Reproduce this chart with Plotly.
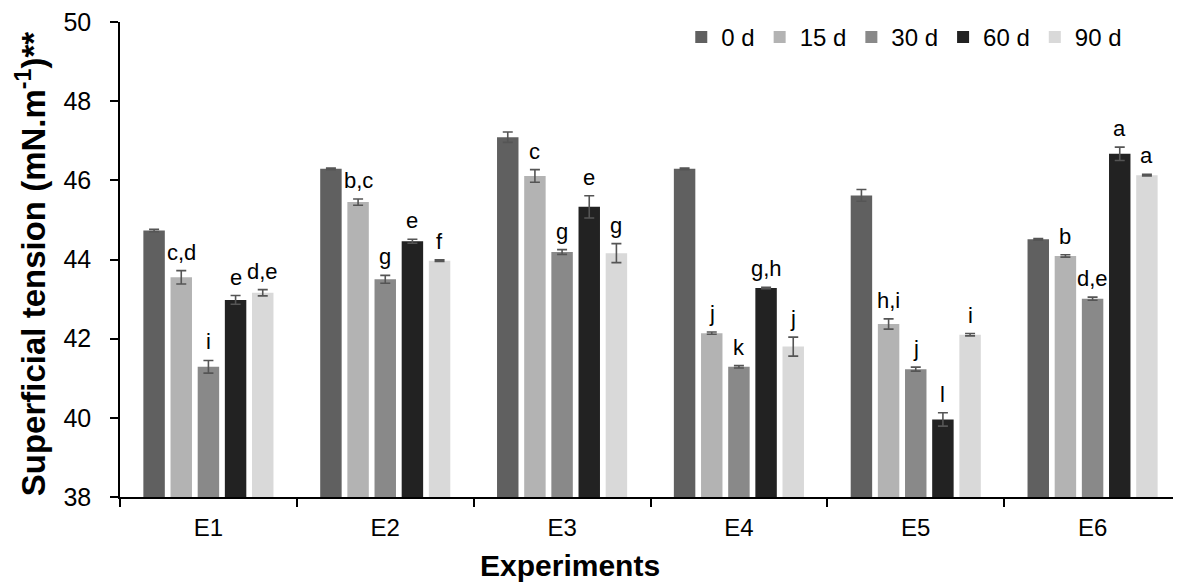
import plotly.graph_objects as go

experiments = ["E1", "E2", "E3", "E4", "E5", "E6"]
series_names = ["0 d", "15 d", "30 d", "60 d", "90 d"]

v0 = [44.73, 46.29, 47.09, 46.29, 45.62, 44.51]
e0 = [0.03, 0.02, 0.13, 0.02, 0.15, 0.02]
v15 = [43.55, 45.45, 46.11, 42.14, 42.37, 44.09]
e15 = [0.17, 0.08, 0.16, 0.03, 0.13, 0.03]
v30 = [41.29, 43.50, 44.19, 41.29, 41.23, 43.01]
e30 = [0.16, 0.10, 0.06, 0.03, 0.05, 0.04]
v60 = [42.98, 44.46, 45.33, 43.28, 39.96, 46.67]
e60 = [0.11, 0.05, 0.28, 0.02, 0.17, 0.17]
v90 = [43.16, 43.97, 44.16, 41.80, 42.10, 46.13]
e90 = [0.08, 0.02, 0.24, 0.24, 0.03, 0.02]

l0 = ["", "", "", "", "", ""]
l15 = ["c,d", "b,c", "c", "j", "h,i", "b"]
l30 = ["i", "g", "g", "k", "j", "d,e"]
l60 = ["e", "e", "e", "g,h", "l", "a"]
l90 = ["d,e", "f", "g", "j", "i", "a"]

values = [v0, v15, v30, v60, v90]
errors = [e0, e15, e30, e60, e90]
letters = [l0, l15, l30, l60, l90]
colors = ["#606060", "#b3b3b3", "#898989", "#222222", "#d9d9d9"]

FONT = "Liberation Sans, Arial, sans-serif"
bargap = 0.232
slot = (1 - bargap) / len(series_names)

fig = go.Figure()
for name, vals, errs, col in zip(series_names, values, errors, colors):
    fig.add_trace(go.Bar(
        x=experiments, y=vals, name=name,
        marker=dict(color=col, line=dict(width=0)),
        error_y=dict(type="data", array=errs, visible=True,
                     color="#555555", thickness=1.6, width=5),
    ))

annotations = []
nser = len(series_names)
for j, (vals, errs, labs) in enumerate(zip(values, errors, letters)):
    for i, lab in enumerate(labs):
        if not lab:
            continue
        annotations.append(dict(
            x=i + (j - (nser - 1) / 2) * slot, y=vals[i] + errs[i],
            xref="x", yref="y", text=lab, showarrow=False,
            yanchor="bottom", xanchor="center", yshift=4,
            font=dict(family=FONT, size=22, color="#000000"),
        ))

annotations.append(dict(
    x=-0.1056, y=0.49, xref="paper", yref="paper",
    text="<b>Superficial tension (mN.m<sup>-1</sup>)**</b>",
    textangle=-90, showarrow=False, xanchor="left", yanchor="middle",
    font=dict(family=FONT, size=33, color="#000000"),
))
annotations.append(dict(
    x=0.424, y=-0.145, xref="paper", yref="paper",
    text="<b>Experiments</b>", showarrow=False,
    xanchor="center", yanchor="middle",
    font=dict(family=FONT, size=30, color="#000000"),
))

fig.update_layout(
    width=1173, height=577,
    margin=dict(l=112, r=0, t=14, b=88),
    paper_bgcolor="white", plot_bgcolor="white",
    barmode="group", bargap=bargap, bargroupgap=0.21,
    font=dict(family=FONT, size=24, color="#000000"),
    legend=dict(orientation="h", x=0.529, xanchor="left", y=1.015, yanchor="top",
                font=dict(family=FONT, size=24), itemwidth=30,
                bgcolor="rgba(0,0,0,0)"),
    annotations=annotations,
    xaxis=dict(type="category", range=[-0.5, 5.5], showline=True,
               linecolor="#000000", linewidth=1.5, ticks="outside",
               tickson="boundaries", ticklen=8, tickcolor="#000000",
               tickwidth=1.5, showgrid=False, zeroline=False,
               ticklabelstandoff=8, automargin=False,
               tickfont=dict(family=FONT, size=24)),
    yaxis=dict(range=[38, 50], tickvals=[38, 40, 42, 44, 46, 48, 50],
               showline=True, linecolor="#000000", linewidth=1.5,
               ticks="outside", ticklen=8, tickcolor="#000000", tickwidth=1.5,
               showgrid=False, zeroline=False, ticklabelstandoff=14,
               ticklabeloverflow="allow", automargin=False,
               tickfont=dict(family=FONT, size=25)),
)

fig.write_html("out.html")
